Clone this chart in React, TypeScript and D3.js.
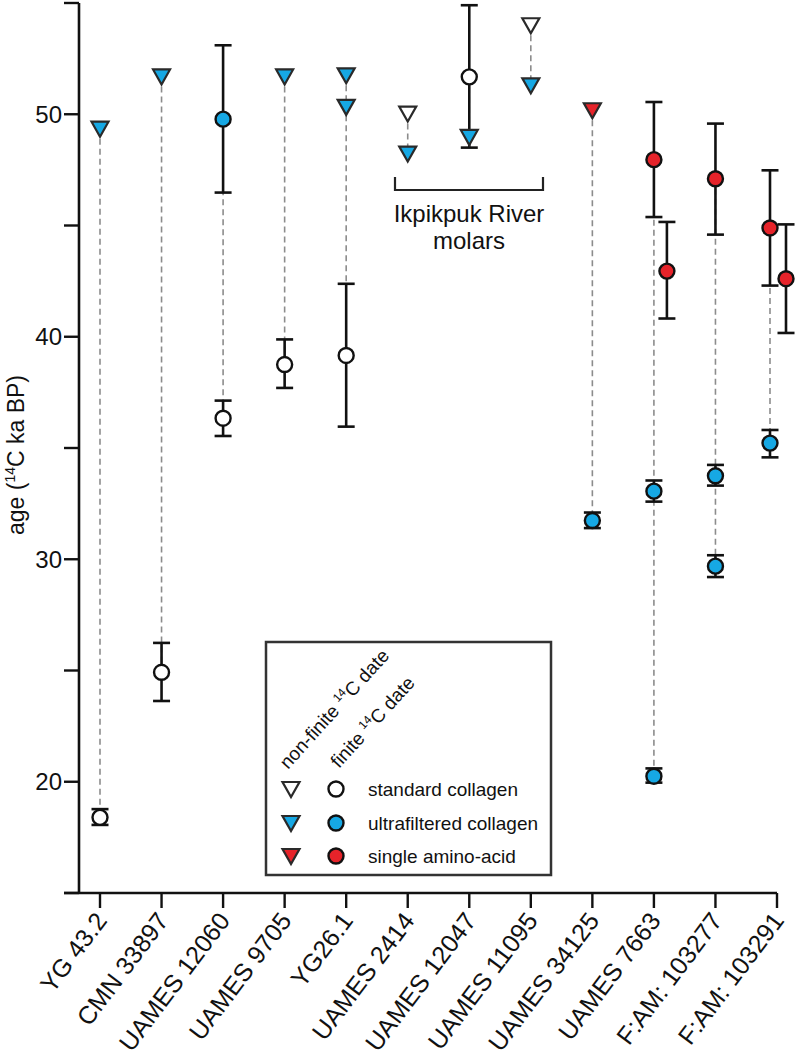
import React from "react";
import * as d3 from "d3";

const categories = [
  "YG 43.2",
  "CMN 33897",
  "UAMES 12060",
  "UAMES 9705",
  "YG26.1",
  "UAMES 2414",
  "UAMES 12047",
  "UAMES 11095",
  "UAMES 34125",
  "UAMES 7663",
  "F:AM: 103277",
  "F:AM: 103291",
];

const yTickValues = [15, 20, 25, 30, 35, 40, 45, 50, 55];
const yTickLabels = [20, 30, 40, 50];

// finite dates: category, age (ka), lower, upper, lane
const standardFinite = [
  { cat: "YG 43.2", age: 18.4, lo: 18.06, hi: 18.77, lane: 0 },
  { cat: "CMN 33897", age: 24.92, lo: 23.63, hi: 26.24, lane: 0 },
  { cat: "UAMES 12060", age: 36.34, lo: 35.54, hi: 37.13, lane: 0 },
  { cat: "UAMES 9705", age: 38.75, lo: 37.7, hi: 39.88, lane: 0 },
  { cat: "YG26.1", age: 39.16, lo: 35.96, hi: 42.38, lane: 0 },
  { cat: "UAMES 12047", age: 51.68, lo: 48.5, hi: 54.9, lane: 0 },
];
const ultraFinite = [
  { cat: "UAMES 12060", age: 49.78, lo: 46.48, hi: 53.1, lane: 0 },
  { cat: "UAMES 34125", age: 31.74, lo: 31.4, hi: 32.1, lane: 0 },
  { cat: "UAMES 7663", age: 33.06, lo: 32.59, hi: 33.54, lane: 0 },
  { cat: "UAMES 7663", age: 20.25, lo: 19.96, hi: 20.6, lane: 0 },
  { cat: "F:AM: 103277", age: 33.75, lo: 33.31, hi: 34.24, lane: 0 },
  { cat: "F:AM: 103277", age: 29.69, lo: 29.2, hi: 30.18, lane: 0 },
  { cat: "F:AM: 103291", age: 35.22, lo: 34.58, hi: 35.81, lane: 0 },
];
const aminoFinite = [
  { cat: "UAMES 7663", age: 47.96, lo: 45.38, hi: 50.55, lane: 0 },
  { cat: "UAMES 7663", age: 42.95, lo: 40.82, hi: 45.16, lane: 1 },
  { cat: "F:AM: 103277", age: 47.1, lo: 44.59, hi: 49.58, lane: 0 },
  { cat: "F:AM: 103291", age: 44.89, lo: 42.3, hi: 47.48, lane: 0 },
  { cat: "F:AM: 103291", age: 42.61, lo: 40.17, hi: 45.05, lane: 1 },
];

// non-finite dates (minimum ages)
const standardNonFinite = [
  { cat: "UAMES 2414", age: 50.03, lane: 0 },
  { cat: "UAMES 11095", age: 54.0, lane: 0 },
];
const ultraNonFinite = [
  { cat: "YG 43.2", age: 49.35, lane: 0 },
  { cat: "CMN 33897", age: 51.7, lane: 0 },
  { cat: "UAMES 9705", age: 51.7, lane: 0 },
  { cat: "YG26.1", age: 51.75, lane: 0 },
  { cat: "YG26.1", age: 50.33, lane: 0 },
  { cat: "UAMES 2414", age: 48.23, lane: 0 },
  { cat: "UAMES 12047", age: 48.98, lane: 0 },
  { cat: "UAMES 11095", age: 51.3, lane: 0 },
];
const aminoNonFinite = [{ cat: "UAMES 34125", age: 50.18, lane: 0 }];

const legendItems = ["standard collagen", "ultrafiltered collagen", "single amino-acid"];

// layout (pixel offsets of side-by-side lanes)
const laneShift: Record<string, number[]> = {
  "UAMES 7663": [0, 13],
  "F:AM: 103291": [-7, 9],
};

const FONT = "'Liberation Sans', Arial, Helvetica, sans-serif";
const BLUE = "#16a8e4";
const RED = "#e6232a";
const WHITE = "#ffffff";
const fills = [WHITE, BLUE, RED];

const W = 797;
const H = 1058;

const x = d3.scalePoint<string>().domain(categories).range([100, 777]);
const y = d3.scaleLinear().domain([15, 55]).range([893, 3]);

const px = (cat: string, lane: number) => {
  const s = laneShift[cat];
  return (x(cat) as number) + (s ? s[lane] : 0);
};

const triPath = (cx: number, cy: number) =>
  `M${cx - 8.5},${cy - 7}L${cx + 8.5},${cy - 7}L${cx},${cy + 8}Z`;

type Fin = { cat: string; age: number; lo: number; hi: number; lane: number };
type NonFin = { cat: string; age: number; lane: number };

export default function App() {
  const finiteGroups: [Fin[], string][] = [
    [standardFinite, WHITE],
    [ultraFinite, BLUE],
    [aminoFinite, RED],
  ];
  const nonFiniteGroups: [NonFin[], string][] = [
    [standardNonFinite, WHITE],
    [ultraNonFinite, BLUE],
    [aminoNonFinite, RED],
  ];

  const all = [
    ...standardFinite,
    ...ultraFinite,
    ...aminoFinite,
    ...standardNonFinite,
    ...ultraNonFinite,
    ...aminoNonFinite,
  ];
  const connectors = categories
    .map((c) => {
      const pts = all.filter((p) => p.cat === c && p.lane === 0);
      if (pts.length < 2) return null;
      const ext = d3.extent(pts, (p) => p.age) as [number, number];
      return { cat: c, lo: ext[0], hi: ext[1] };
    })
    .filter(Boolean) as { cat: string; lo: number; hi: number }[];

  const capW = 8.5;
  const legendRowsY = [789, 823, 856];

  return (
    <svg
      width={W}
      height={H}
      style={{ position: "absolute", left: 0, top: 0, background: "#fff" }}
      fontFamily={FONT}
    >
      <rect width={W} height={H} fill="#fff" />

      {connectors.map((c, i) => (
        <line
          key={"c" + i}
          x1={px(c.cat, 0)}
          x2={px(c.cat, 0)}
          y1={y(c.hi)}
          y2={y(c.lo)}
          stroke="#8c8c8c"
          strokeWidth={1.6}
          strokeDasharray="6,4"
        />
      ))}

      {finiteGroups.map(([arr], gi) =>
        arr.map((d, i) => {
          const cx = px(d.cat, d.lane);
          return (
            <g key={`e${gi}-${i}`} stroke="#111" strokeWidth={2.6}>
              <line x1={cx} x2={cx} y1={y(d.hi)} y2={y(d.lo)} />
              <line x1={cx - capW} x2={cx + capW} y1={y(d.hi)} y2={y(d.hi)} />
              <line x1={cx - capW} x2={cx + capW} y1={y(d.lo)} y2={y(d.lo)} />
            </g>
          );
        })
      )}

      {nonFiniteGroups.map(([arr, fill], gi) =>
        arr.map((d, i) => (
          <path
            key={`t${gi}-${i}`}
            d={triPath(px(d.cat, d.lane), y(d.age))}
            fill={fill}
            stroke="#2a2a2a"
            strokeWidth={2.2}
          />
        ))
      )}

      {finiteGroups.map(([arr, fill], gi) =>
        arr.map((d, i) => (
          <circle
            key={`p${gi}-${i}`}
            cx={px(d.cat, d.lane)}
            cy={y(d.age)}
            r={7.5}
            fill={fill}
            stroke="#111"
            strokeWidth={2.4}
          />
        ))
      )}

      {/* y axis */}
      <line x1={79} x2={79} y1={y(55)} y2={y(15)} stroke="#111" strokeWidth={2.6} />
      {yTickValues.map((v) => (
        <line key={"yt" + v} x1={64} x2={79} y1={y(v)} y2={y(v)} stroke="#111" strokeWidth={2.4} />
      ))}
      {yTickLabels.map((v) => (
        <text key={"yl" + v} x={62} y={y(v)} dy="0.36em" textAnchor="end" fontSize={24} fill="#111">
          {v}
        </text>
      ))}
      <text transform={`translate(24,455) rotate(-90)`} textAnchor="middle" fontSize={23} fill="#111">
        age (
        <tspan fontSize={14} dy={-9}>
          14
        </tspan>
        <tspan dy={9}>C ka BP)</tspan>
      </text>

      {/* x axis */}
      <line
        x1={64}
        x2={x(categories[categories.length - 1]) as number}
        y1={893}
        y2={893}
        stroke="#111"
        strokeWidth={2.6}
      />
      {categories.map((c) => (
        <g key={"xt" + c}>
          <line x1={x(c)} x2={x(c)} y1={893} y2={908} stroke="#111" strokeWidth={2.4} />
          <text
            transform={`translate(${(x(c) as number) + 8},${921}) rotate(-53)`}
            textAnchor="end"
            fontSize={25}
            fill="#111"
          >
            {c}
          </text>
        </g>
      ))}

      {/* Ikpikpuk bracket */}
      <path d="M395,177V190H543V177" fill="none" stroke="#222" strokeWidth={2.2} />
      <text x={469} y={222} textAnchor="middle" fontSize={24} fill="#111">
        Ikpikpuk River
      </text>
      <text x={469} y={249} textAnchor="middle" fontSize={24} fill="#111">
        molars
      </text>

      {/* legend */}
      <rect x={266} y={642} width={285} height={233} fill="#fff" stroke="#333" strokeWidth={2.5} />
      <text transform="translate(288,770) rotate(-48)" fontSize={19} fill="#111">
        non-finite{" "}
        <tspan fontSize={12} dy={-8}>
          14
        </tspan>
        <tspan dy={8}>C date</tspan>
      </text>
      <text transform="translate(339,769) rotate(-48)" fontSize={19} fill="#111">
        finite{" "}
        <tspan fontSize={12} dy={-8}>
          14
        </tspan>
        <tspan dy={8}>C date</tspan>
      </text>
      {legendItems.map((t, i) => (
        <g key={"lg" + i}>
          <path d={triPath(291, legendRowsY[i])} fill={fills[i]} stroke="#2a2a2a" strokeWidth={2.2} />
          <circle cx={336} cy={legendRowsY[i]} r={7.5} fill={fills[i]} stroke="#111" strokeWidth={2.4} />
          <text x={368} y={legendRowsY[i]} dy="0.35em" fontSize={19} fill="#111">
            {t}
          </text>
        </g>
      ))}
    </svg>
  );
}
